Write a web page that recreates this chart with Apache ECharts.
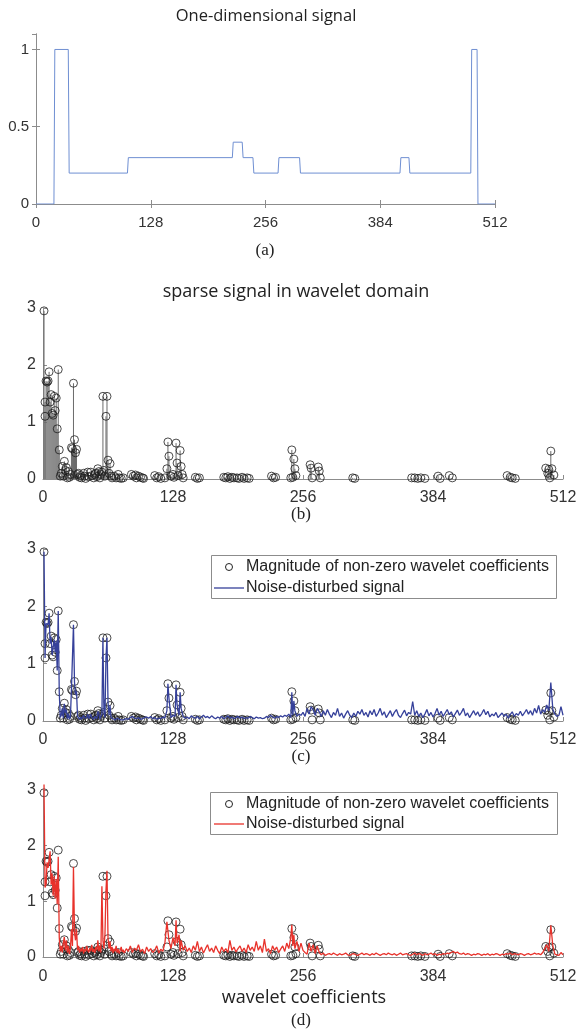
<!DOCTYPE html>
<html><head><meta charset="utf-8">
<script src="https://cdn.jsdelivr.net/npm/echarts@6/dist/echarts.min.js"></script>
<style>html,body{margin:0;padding:0;background:#fff}#c{width:580px;height:1032px}</style>
</head><body><div id="c"></div>
<script>
// ---- data ----
const xTicks = [0, 128, 256, 384, 512];
const signalX = [0,20,21,36,37,102,103,219,220,230,231,242,243,270,271,294,295,406,407,416,417,485,486,492,493,512];
const signalY = [0,0,1,1,0.2,0.2,0.3,0.3,0.4,0.4,0.3,0.3,0.2,0.2,0.3,0.3,0.2,0.2,0.3,0.3,0.2,0.2,1,1,0,0];

const coefficients = [
[1,2.95],[2,1.1],[2,1.35],[3,1.72],[4,1.7],[5,1.72],[6,1.88],[7,1.35],[8,1.48],[9,1.15],[10,1.12],[11,1.45],[12,1.2],[13,1.42],[14,0.88],[15,1.92],[16,0.51],
[17,0.05],[18,0.1],[19,0.22],[20,0.05],[21,0.31],[22,0.15],[23,0.2],[24,0.02],[25,0.13],[26,0.03],[27,0.08],
[28,0.55],[29,0.53],[30,1.68],[31,0.69],[32,0.46],[33,0.52],[34,0.08],[35,0.1],[36,0.03],[37,0.06],[38,0.02],[40,0.1],[41,0.05],[42,0.01],[44,0.12],[45,0.04],[47,0.12],[48,0.06],[50,0.02],[51,0.08],[52,0.1],[53,0.04],[54,0.18],[55,0.13],[56,0.02],[57,0.08],[58,0.12],
[59,1.45],[60,0.15],[61,0.05],[62,1.1],[63,1.45],[64,0.33],[65,0.1],[66,0.27],[67,0.05],[68,0.02],[70,0.05],[72,0.02],[74,0.08],[75,0.02],[77,0.01],[79,0.02],
[87,0.08],[89,0.05],[91,0.07],[92,0.02],[94,0.05],[96,0.03],[98,0.02],[99,0.01],
[110,0.06],[112,0.02],[114,0.04],[116,0.01],
[120,0.02],[122,0.18],[123,0.65],[124,0.4],[126,0.05],[128,0.08],[129,0.03],[131,0.63],[132,0.28],[133,0.06],[135,0.5],[136,0.22],[137,0.08],[138,0.02],
[150,0.03],[152,0.01],[154,0.02],
[178,0.03],[180,0.02],[182,0.04],[184,0.01],[186,0.03],[188,0.02],[191,0.02],[193,0.01],[196,0.03],[198,0.01],[201,0.02],[203,0.01],
[225,0.05],[227,0.02],[229,0.03],
[244,0.02],[245,0.51],[246,0.03],[247,0.35],[248,0.18],[249,0.06],
[263,0.25],[264,0.19],[265,0.02],[271,0.21],[272,0.14],[273,0.02],
[305,0.02],[307,0.01],
[363,0.02],[366,0.02],[369,0.01],[372,0.02],[376,0.01],
[389,0.05],[391,0.01],[400,0.06],[403,0.02],
[457,0.06],[460,0.03],[462,0.02],[465,0.01],
[495,0.19],[497,0.1],[498,0.17],[499,0.02],[500,0.49],[501,0.18],[503,0.07]
];

const noiseBlue = [
[1,2.95],[2,1.1],[3,1.7],[4,1.72],[5,1.68],[6,1.88],[7,1.35],[8,1.47],[9,1.15],[10,1.12],[11,1.42],[12,1.2],[13,1.4],[14,0.88],[15,1.92],[16,0.5],[17,0.06],[18,0.1],[19,0.22],[20,0.05],[21,0.3],[22,0.14],[23,0.2],[24,0.04],[25,0.13],[26,0.03],[27,0.08],[28,0.55],[29,0.52],[30,1.68],[31,0.68],[32,0.46],[33,0.52],[34,0.08],[35,0.1],[36,0.03],[37,0.07],[38,0.03],[39,0.05],[40,0.1],[41,0.05],[42,0.02],[43,0.06],[44,0.12],[45,0.04],[46,0.07],[47,0.12],[48,0.06],[49,0.03],[50,0.03],[51,0.08],[52,0.1],[53,0.04],[54,0.17],[55,0.13],[56,0.03],[57,0.08],[58,0.12],[59,1.45],[60,0.15],[61,0.06],[62,1.1],[63,1.45],[64,0.33],[65,0.1],[66,0.27],[67,0.06],[68,0.03],[69,0.04],[70,0.05],[71,0.02],[72,0.03],[73,0.05],[74,0.08],[75,0.03],[76,0.02],[77,0.02],[78,0.04],[79,0.02],[80,0.03],
[82,0.04],[84,0.03],[86,0.06],[88,0.08],[90,0.05],[92,0.04],[94,0.06],[96,0.03],[98,0.04],[100,0.06],[102,0.07],[104,0.05],[106,0.08],[108,0.04],[110,0.06],[112,0.03],[114,0.05],[116,0.04],[118,0.07],[120,0.05],[122,0.18],[123,0.65],[124,0.4],[126,0.06],[128,0.1],[130,0.08],[131,0.63],[132,0.28],[134,0.1],[135,0.5],[136,0.22],[138,0.08],[140,0.05],
[142,0.07],[144,0.04],[146,0.09],[148,0.06],[150,0.05],[152,0.08],[154,0.04],[156,0.07],[158,0.1],[160,0.06],[162,0.08],[164,0.05],[166,0.09],[168,0.06],[170,0.04],[172,0.07],[174,0.05],[176,0.08],[178,0.04],[180,0.06],[182,0.09],[184,0.05],[186,0.07],[188,0.04],[190,0.06],[192,0.08],[194,0.05],[196,0.07],[198,0.04],[200,0.06],[202,0.05],[204,0.08],[206,0.06],[208,0.04],[210,0.07],[212,0.05],[214,0.06],[216,0.04],[218,0.05],[220,0.08],[222,0.06],[224,0.1],[226,0.07],[228,0.05],[230,0.08],[232,0.06],[234,0.09],[236,0.07],[238,0.1],[240,0.08],[242,0.12],[244,0.06],[245,0.5],[246,0.1],[247,0.35],[248,0.18],[250,0.08],[252,0.12],[254,0.1],[256,0.15],
[258,0.08],[260,0.22],[262,0.12],[264,0.25],[266,0.2],[268,0.1],[270,0.22],[272,0.16],[274,0.08],[276,0.18],[278,0.1],[280,0.2],[282,0.12],[284,0.06],[286,0.15],[288,0.1],[290,0.22],[292,0.08],[294,0.14],[296,0.05],[298,0.12],[300,0.18],[302,0.1],[304,0.06],[306,0.14],[308,0.08],[310,0.17],[312,0.12],[314,0.2],[316,0.1],[318,0.15],[320,0.07],[322,0.18],[324,0.11],[326,0.2],[328,0.08],[330,0.14],[332,0.22],[334,0.1],[336,0.16],[338,0.06],[340,0.12],[342,0.18],[344,0.08],[346,0.15],[348,0.2],[350,0.1],[352,0.06],[354,0.13],[356,0.19],[358,0.09],[360,0.15],[362,0.12],[364,0.34],[366,0.1],[368,0.18],[370,0.08],[372,0.14],[374,0.06],[376,0.12],[378,0.2],[380,0.09],[382,0.15],[384,0.07],
[386,0.13],[388,0.22],[390,0.1],[392,0.17],[394,0.08],[396,0.14],[398,0.2],[400,0.11],[402,0.16],[404,0.07],[406,0.13],[408,0.19],[410,0.1],[412,0.15],[414,0.22],[416,0.09],[418,0.14],[420,0.06],[422,0.12],[424,0.18],[426,0.1],[428,0.16],[430,0.08],[432,0.13],[434,0.2],[436,0.11],[438,0.17],[440,0.07],[442,0.12],[444,0.09],[446,0.15],[448,0.06],[450,0.1],[452,0.14],[454,0.08],[456,0.12],[458,0.05],[460,0.11],[462,0.16],[464,0.08],[466,0.13],[468,0.1],[470,0.17],[472,0.09],[474,0.14],[476,0.2],[478,0.12],[480,0.18],[482,0.1],[484,0.22],[486,0.14],[488,0.27],[490,0.12],[492,0.2],[494,0.15],[496,0.28],[498,0.18],[500,0.67],[502,0.2],[504,0.12],[506,0.08],[508,0.1],[510,0.25],[512,0.1]
];

const noiseRed = [
[1,3.1],[2,1.25],[3,1.3],[4,1.7],[5,1.6],[6,1.75],[7,1.9],[8,1.3],[9,1.5],[10,1.1],[11,1.45],[12,1.05],[13,1.4],[14,0.95],[15,1.8],[16,0.35],[17,0.1],[18,0.2],[19,0.08],[20,0.25],[21,0.36],[22,0.12],[23,0.3],[24,0.08],[25,0.2],[26,0.05],[27,0.15],[28,0.5],[29,0.2],[30,1.62],[31,0.45],[32,0.3],[33,0.5],[34,0.12],[35,0.2],[36,0.08],[37,0.15],[38,0.1],[39,0.18],[40,0.06],[41,0.14],[42,0.1],[43,0.2],[44,0.12],[45,0.08],[46,0.16],[47,0.1],[48,0.22],[49,0.09],[50,0.15],[51,0.07],[52,0.18],[53,0.12],[54,0.3],[55,0.1],[56,0.2],[57,0.08],[58,1.27],[59,0.3],[60,0.15],[61,0.4],[62,1.2],[63,1.55],[64,0.35],[65,0.15],[66,0.28],[67,0.1],[68,0.18],[69,0.07],[70,0.15],[71,0.1],[72,0.2],[73,0.08],[74,0.14],[75,0.06],[76,0.12],[77,0.18],[78,0.09],[79,0.13],[80,0.07],
[82,0.15],[84,0.1],[86,0.2],[88,0.08],[90,0.16],[92,0.12],[94,0.22],[96,0.09],[98,0.14],[100,0.06],[102,0.18],[104,0.1],[106,0.15],[108,0.08],[110,0.12],[112,0.2],[114,0.07],[116,0.14],[118,0.1],[120,0.25],[122,0.63],[124,0.3],[126,0.15],[128,0.35],[130,0.2],[131,0.66],[132,0.25],[134,0.4],[135,0.1],[136,0.3],[138,0.12],[140,0.2],
[142,0.1],[144,0.16],[146,0.08],[148,0.2],[150,0.12],[152,0.28],[154,0.1],[156,0.18],[158,0.07],[160,0.15],[162,0.22],[164,0.1],[166,0.16],[168,0.08],[170,0.2],[172,0.12],[174,0.06],[176,0.18],[178,0.1],[180,0.15],[182,0.08],[184,0.3],[186,0.12],[188,0.18],[190,0.09],[192,0.15],[194,0.2],[196,0.1],[198,0.16],[200,0.08],[202,0.22],[204,0.12],[206,0.18],[208,0.1],[210,0.28],[212,0.12],[214,0.2],[216,0.08],[218,0.32],[220,0.1],[222,0.15],[224,0.06],[226,0.2],[228,0.12],[230,0.18],[232,0.08],[234,0.14],[236,0.2],[238,0.1],[240,0.25],[242,0.15],[244,0.35],[245,0.58],[246,0.2],[247,0.4],[248,0.15],[250,0.28],[252,0.1],[254,0.25],[256,0.12],
[258,0.08],[260,0.05],[262,0.25],[264,0.1],[266,0.22],[268,0.06],[270,0.2],[272,0.08],[274,0.04],[276,0.07],[278,0.03],[280,0.05],[282,0.06],[284,0.04],[286,0.07],[288,0.05],[290,0.03],[292,0.06],[294,0.04],[296,0.05],[298,0.07],[300,0.04],[302,0.03],[304,0.05],[306,0.06],[308,0.04],[310,0.03],[312,0.05],[314,0.07],[316,0.04],[318,0.06],[320,0.05],[322,0.03],[324,0.06],[326,0.04],[328,0.07],[330,0.05],[332,0.03],[334,0.05],[336,0.06],[338,0.04],[340,0.07],[342,0.05],[344,0.04],[346,0.06],[348,0.03],[350,0.05],[352,0.07],[354,0.04],[356,0.05],[358,0.06],[360,0.04],[362,0.03],[364,0.05],[366,0.07],[368,0.04],[370,0.06],[372,0.05],[374,0.03],[376,0.06],[378,0.04],[380,0.05],[382,0.07],[384,0.04],
[386,0.06],[388,0.03],[390,0.05],[392,0.04],[394,0.06],[396,0.05],[398,0.07],[400,0.06],[402,0.08],[404,0.1],[406,0.07],[408,0.09],[410,0.06],[412,0.05],[414,0.07],[416,0.04],[418,0.06],[420,0.05],[422,0.03],[424,0.05],[426,0.04],[428,0.06],[430,0.05],[432,0.03],[434,0.05],[436,0.04],[438,0.06],[440,0.03],[442,0.05],[444,0.04],[446,0.06],[448,0.05],[450,0.03],[452,0.05],[454,0.04],[456,0.06],[458,0.05],[460,0.07],[462,0.04],[464,0.06],[466,0.05],[468,0.04],[470,0.06],[472,0.05],[474,0.03],[476,0.05],[478,0.06],[480,0.04],[482,0.05],[484,0.07],[486,0.05],[488,0.06],[490,0.04],[492,0.08],[494,0.15],[496,0.22],[498,0.1],[500,0.57],[502,0.2],[504,0.05],[506,0.04],[508,0.03],[510,0.08],[512,0.04]
];

const legendLabels = ['Magnitude of non-zero wavelet coefficients', 'Noise-disturbed signal'];

// ---- chart ----
const chart = echarts.init(document.getElementById('c'), null, {renderer: 'canvas'});
const AX = '#8c8c8c', LBL = '#333';
const SANS = '"Liberation Sans", Arial, sans-serif';
const MYR = '"Open Sans", sans-serif';
const SERIF = '"Liberation Serif", "Times New Roman", serif';

function xAx(grid, fs, margin, extra) {
  return Object.assign({
    gridIndex: grid, type: 'value', min: 0, max: 512, interval: 128,
    axisLine: {show: true, lineStyle: {color: AX, width: 1}},
    axisTick: {show: true, inside: true, length: 4, lineStyle: {color: AX}},
    axisLabel: {show: true, color: LBL, fontSize: fs, fontFamily: SANS, margin: margin},
    splitLine: {show: false}
  }, extra || {});
}
function yAx(grid, max, interval, fs, extra) {
  return Object.assign({
    gridIndex: grid, type: 'value', min: 0, max: max, interval: interval,
    axisLine: {show: true, lineStyle: {color: AX, width: 1}},
    axisTick: {show: true, inside: true, length: 4, lineStyle: {color: AX}},
    axisLabel: {show: true, color: LBL, fontSize: fs, fontFamily: SANS, margin: 7, showMaxLabel: max !== 1.1},
    splitLine: {show: false}
  }, extra || {});
}

const hollow = {color: 'rgba(0,0,0,0)', borderColor: '#1e1e1e', borderWidth: 1};

const option = {
  animation: false,
  backgroundColor: '#fff',
  grid: [
    {left: 36, top: 34, width: 459, height: 170},
    {left: 43, top: 308, width: 520, height: 171},
    {left: 43, top: 549, width: 520, height: 172},
    {left: 43, top: 790, width: 520, height: 167}
  ],
  xAxis: [
    xAx(0, 15, 11),
    xAx(0, 15, 11, {position: 'top', axisLabel: {show: false}}),
    xAx(1, 16, 11),
    xAx(2, 16, 11),
    xAx(3, 16, 12)
  ],
  yAxis: [
    yAx(0, 1.1, 0.5, 15),
    yAx(0, 1.1, 0.5, 15, {position: 'right', axisLabel: {show: false}}),
    yAx(1, 3, 1, 16),
    yAx(2, 3, 1, 16),
    yAx(3, 3, 1, 16)
  ],
  series: [
    {type: 'line', xAxisIndex: 0, yAxisIndex: 0, symbol: 'none',
     data: signalX.map((x, i) => [x, signalY[i]]),
     lineStyle: {color: '#6f8fd2', width: 1}},
    {type: 'custom', xAxisIndex: 2, yAxisIndex: 2, data: coefficients,
     renderItem: function (params, api) {
       const p0 = api.coord([api.value(0), 0]);
       const p1 = api.coord([api.value(0), api.value(1)]);
       return {type: 'line', shape: {x1: p0[0], y1: p0[1], x2: p1[0], y2: p1[1]},
               style: {stroke: '#6a6a6a', lineWidth: 1}};
     }},
    {type: 'scatter', xAxisIndex: 2, yAxisIndex: 2, data: coefficients,
     symbol: 'circle', symbolSize: 8, itemStyle: hollow},
    {type: 'scatter', name: legendLabels[0], xAxisIndex: 3, yAxisIndex: 3, data: coefficients,
     symbol: 'circle', symbolSize: 8, itemStyle: hollow},
    {type: 'line', name: legendLabels[1], xAxisIndex: 3, yAxisIndex: 3, data: noiseBlue,
     symbol: 'none', lineStyle: {color: '#35409a', width: 1.3}},
    {type: 'scatter', name: legendLabels[0], xAxisIndex: 4, yAxisIndex: 4, data: coefficients,
     symbol: 'circle', symbolSize: 8, itemStyle: hollow},
    {type: 'line', name: legendLabels[1], xAxisIndex: 4, yAxisIndex: 4, data: noiseRed, clip: false,
     symbol: 'none', lineStyle: {color: '#e8322b', width: 1.3}}
  ],
  graphic: [
    {type: 'text', x: 266, y: 16, style: {text: 'One-dimensional signal', fill: '#222', font: '16.5px ' + MYR, textAlign: 'center', textVerticalAlign: 'middle'}},
    {type: 'text', x: 265, y: 251, style: {text: '(a)', fill: '#222', font: '17px ' + SERIF, textAlign: 'center', textVerticalAlign: 'middle'}},
    {type: 'text', x: 296, y: 292, style: {text: 'sparse signal in wavelet domain', fill: '#222', font: '18px ' + MYR, textAlign: 'center', textVerticalAlign: 'middle'}},
    {type: 'text', x: 301, y: 515, style: {text: '(b)', fill: '#222', font: '17px ' + SERIF, textAlign: 'center', textVerticalAlign: 'middle'}},
    {type: 'text', x: 301, y: 757, style: {text: '(c)', fill: '#222', font: '17px ' + SERIF, textAlign: 'center', textVerticalAlign: 'middle'}},
    {type: 'text', x: 304, y: 998, style: {text: 'wavelet coefficients', fill: '#222', font: '18px ' + MYR, textAlign: 'center', textVerticalAlign: 'middle'}},
    {type: 'text', x: 301, y: 1021, style: {text: '(d)', fill: '#222', font: '17px ' + SERIF, textAlign: 'center', textVerticalAlign: 'middle'}},
    // legend (c)
    {type: 'group', z: 100, children: [
      {type: 'rect', shape: {x: 211.5, y: 555.5, width: 345, height: 43}, style: {fill: '#fff', stroke: '#8c8c8c', lineWidth: 1}},
      {type: 'circle', shape: {cx: 229, cy: 567, r: 3.5}, style: {fill: 'none', stroke: '#222', lineWidth: 1}},
      {type: 'line', shape: {x1: 214, y1: 588, x2: 244, y2: 588}, style: {stroke: '#35409a', lineWidth: 1.3}},
      {type: 'text', x: 246, y: 567, style: {text: legendLabels[0], fill: '#222', font: '16px ' + SANS, textVerticalAlign: 'middle'}},
      {type: 'text', x: 246, y: 588, style: {text: legendLabels[1], fill: '#222', font: '16px ' + SANS, textVerticalAlign: 'middle'}}
    ]},
    // legend (d)
    {type: 'group', z: 100, children: [
      {type: 'rect', shape: {x: 210.5, y: 792.5, width: 347, height: 42}, style: {fill: '#fff', stroke: '#8c8c8c', lineWidth: 1}},
      {type: 'circle', shape: {cx: 229, cy: 804, r: 3.5}, style: {fill: 'none', stroke: '#222', lineWidth: 1}},
      {type: 'line', shape: {x1: 214, y1: 824, x2: 244, y2: 824}, style: {stroke: '#e8322b', lineWidth: 1.3}},
      {type: 'text', x: 246, y: 804, style: {text: legendLabels[0], fill: '#222', font: '16px ' + SANS, textVerticalAlign: 'middle'}},
      {type: 'text', x: 246, y: 824, style: {text: legendLabels[1], fill: '#222', font: '16px ' + SANS, textVerticalAlign: 'middle'}}
    ]}
  ]
};
chart.setOption(option);
</script>
</body></html>
